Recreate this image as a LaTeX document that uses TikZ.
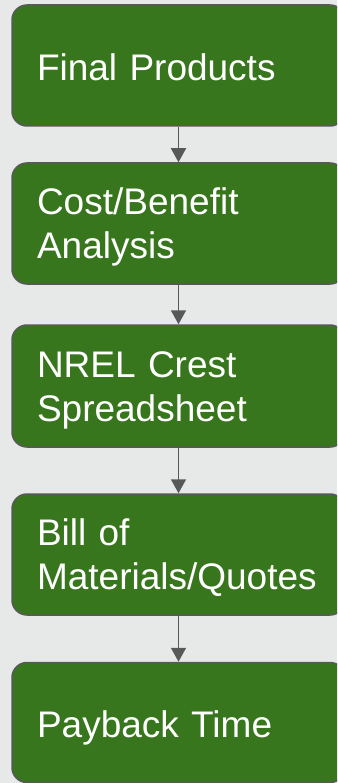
\documentclass[tikz,border=0pt]{standalone}
\usepackage{fontspec}
\setmainfont{Liberation Sans}
\usetikzlibrary{arrows.meta}
\definecolor{bgcol}{RGB}{231,233,232}
\definecolor{boxfill}{RGB}{56,118,30}
\definecolor{edgecol}{RGB}{88,88,88}
\tikzset{
  stagebox/.style={draw=edgecol, line width=1.5pt, fill=boxfill, rounded corners=15pt,
    minimum width=333pt, text width=283pt, inner xsep=25pt, inner ysep=0pt,
    align=left, text=white, font=\fontsize{37}{44}\selectfont},
  oneline/.style={text height=30pt, text depth=0pt},
  twoline/.style={text height=26pt, text depth=44pt},
  flow/.style={draw=edgecol, line width=1.6pt, -{Triangle[width=15pt,length=14pt]}}
}
\begin{document}
\begin{tikzpicture}[x=1pt,y=-1pt]
  \fill[bgcol] (0,0) rectangle (337,783);
  \useasboundingbox (0,0) rectangle (337,783);
  \clip (0,0) rectangle (337,783);
  \node[stagebox, oneline, minimum height=121pt] (b1) at (178.5,65.5) {Final Products};
  \node[stagebox, twoline, minimum height=121pt] (b2) at (178.5,223.5) {Cost/Benefit\\Analysis};
  \node[stagebox, twoline, minimum height=122pt] (b3) at (178.5,386) {NREL Crest\\Spreadsheet};
  \node[stagebox, twoline, minimum height=121pt] (b4) at (178.5,554.5) {Bill of\\Materials/Quotes};
  \node[stagebox, oneline, minimum height=120pt] (b5) at (178.5,722.5) {Payback Time};
  \draw[flow] (b1.south) -- (b2.north);
  \draw[flow] (b2.south) -- (b3.north);
  \draw[flow] (b3.south) -- (b4.north);
  \draw[flow] (b4.south) -- (b5.north);
\end{tikzpicture}
\end{document}
